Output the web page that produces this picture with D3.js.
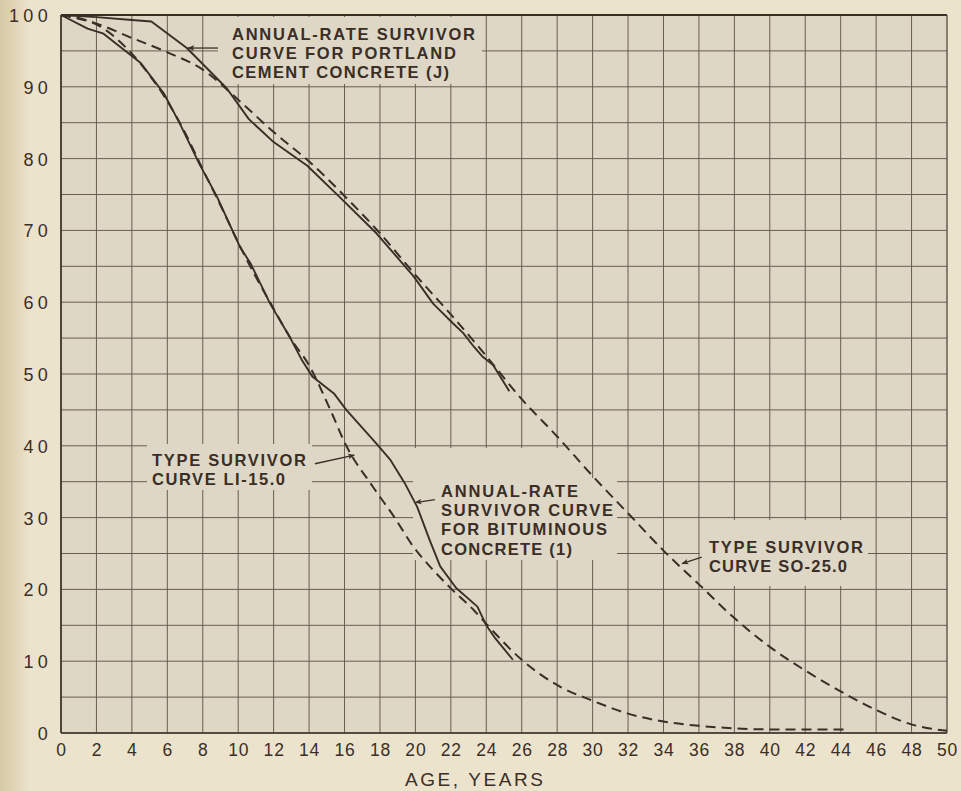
<!DOCTYPE html>
<html><head><meta charset="utf-8">
<script src="https://cdn.jsdelivr.net/npm/d3@7/dist/d3.min.js"></script>
<style>
html,body{margin:0;padding:0;background:#ece3cd;}
svg{display:block;}
</style></head>
<body>
<script>
// ---- data ----
const xTicks = d3.range(0, 51, 2);
const yTicks = d3.range(0, 101, 10);
const yGrid = d3.range(0, 101, 5);

// Annual-rate survivor curve, Portland cement concrete (J) — solid
const jAge = [0, 2, 4, 5.1, 7.1, 9.35, 10.6, 12, 13.9, 15.7, 17.8, 19.9, 21.0, 22.1, 22.7, 23.3, 23.8, 24.4, 25.3];
const jPct = [100, 99.7, 99.3, 99.1, 95.4, 89.8, 85.5, 82.3, 79.0, 74.7, 69.6, 63.6, 59.8, 57.1, 55.7, 53.8, 52.4, 51.2, 47.6];

// Annual-rate survivor curve, bituminous concrete (1) — solid
const bAge = [0, 1.5, 2.4, 4.5, 5.8, 6.7, 7.8, 8.8, 10.1, 10.7, 11.8, 12.9, 13.6, 14.2, 15.4, 16.1, 17.8, 18.6, 19.4, 20.1, 20.8, 21.4, 22.3, 23.5, 24.0, 24.5, 25.5];
const bPct = [100, 98.1, 97.4, 93.3, 89.1, 84.9, 79.3, 74.7, 67.7, 65.4, 59.8, 55.2, 51.9, 49.6, 47.3, 45.0, 40.3, 38.0, 34.8, 31.5, 26.9, 23.2, 20.2, 17.6, 15.0, 13.2, 10.2];

// Type survivor curve L1-15.0 — dashed
const lAge = [0, 1, 2, 3, 4, 5, 6, 7, 8, 9, 10, 11, 12, 13, 14, 15.2, 16.1, 17.6, 18.8, 19.9, 21, 22.1, 23.3, 24, 26, 28.2, 30, 32, 34, 36, 38, 40, 42, 44.3];
const lPct = [100, 99.6, 98.7, 97.0, 94.6, 91.6, 88.0, 83.6, 78.5, 73.5, 68.3, 63.5, 59.1, 54.8, 51.2, 45.0, 40.0, 34.3, 30.1, 25.9, 22.7, 19.9, 17.1, 15.2, 10.2, 6.4, 4.5, 2.7, 1.6, 1.0, 0.65, 0.5, 0.5, 0.5];

// Type survivor curve SO-25.0 — dashed
const sAge = [0, 2, 4, 6, 8, 10, 12, 14, 16, 18, 20, 22, 24, 26, 28, 30, 32, 34, 36, 38, 40, 42, 44, 46, 48, 50];
const sPct = [100, 98.8, 96.8, 94.8, 92.4, 88.2, 83.7, 79.6, 74.8, 69.6, 63.8, 58.3, 52.5, 46.5, 41.3, 35.8, 30.6, 25.4, 20.7, 16.0, 12.0, 8.7, 5.8, 3.2, 1.2, 0.3];

const xLabel = "AGE, YEARS";

// ---- layout ----
const W = 961, H = 791;
const X0 = 61, X1 = 947, Y0 = 733, Y1 = 15;
const INK = "#3a2e27", GRID = "#6a5c50", PAGE = "#ece3cd", PLOT = "#ded7c5";

const x = d3.scaleLinear().domain([0, 50]).range([X0, X1]);
const y = d3.scaleLinear().domain([0, 100]).range([Y0, Y1]);

const svg = d3.select("body").append("svg").attr("width", W).attr("height", H);
const defs = svg.append("defs");
const grad = defs.append("linearGradient").attr("id", "bind").attr("x1", 0).attr("x2", 1);
grad.append("stop").attr("offset", 0).attr("stop-color", "#d6c9a6");
grad.append("stop").attr("offset", 0.6).attr("stop-color", "#e3d8bb");
grad.append("stop").attr("offset", 1).attr("stop-color", PAGE);
defs.append("marker").attr("id", "arr").attr("viewBox", "0 0 10 10")
  .attr("refX", 9).attr("refY", 5).attr("markerWidth", 7).attr("markerHeight", 7)
  .attr("markerUnits", "userSpaceOnUse").attr("orient", "auto")
  .append("path").attr("d", "M0,1 L10,5 L0,9 L2.5,5 Z").attr("fill", INK);

svg.append("rect").attr("width", W).attr("height", H).attr("fill", PAGE);
svg.append("rect").attr("width", 30).attr("height", H).attr("fill", "url(#bind)");
svg.append("rect").attr("x", X0).attr("y", Y1).attr("width", X1 - X0).attr("height", Y0 - Y1).attr("fill", PLOT);

// grid
const g = svg.append("g");
g.selectAll(".vg").data(xTicks).join("line")
  .attr("x1", d => x(d)).attr("x2", d => x(d)).attr("y1", Y1).attr("y2", Y0)
  .attr("stroke", GRID).attr("stroke-width", 1);
g.selectAll(".hg").data(yGrid).join("line")
  .attr("x1", X0).attr("x2", X1).attr("y1", d => y(d)).attr("y2", d => y(d))
  .attr("stroke", GRID).attr("stroke-width", 1);

// label boxes that interrupt the grid
const boxes = [
  [218, 17, 264, 67],
  [147, 444, 165, 46],
  [413, 448, 167, 112],
  [580, 478, 37, 82],
  [700, 520, 168, 66]
];
svg.selectAll(".box").data(boxes).join("rect")
  .attr("x", d => d[0]).attr("y", d => d[1]).attr("width", d => d[2]).attr("height", d => d[3])
  .attr("fill", PLOT);

// frame
svg.append("line").attr("x1", X0).attr("x2", X1).attr("y1", Y1).attr("y2", Y1).attr("stroke", INK).attr("stroke-width", 2.2);
svg.append("line").attr("x1", X0).attr("x2", X0).attr("y1", Y1).attr("y2", Y0).attr("stroke", INK).attr("stroke-width", 1.6);
svg.append("line").attr("x1", X0).attr("x2", X1).attr("y1", Y0).attr("y2", Y0).attr("stroke", INK).attr("stroke-width", 1.6);
svg.append("line").attr("x1", X1).attr("x2", X1).attr("y1", Y1).attr("y2", Y0).attr("stroke", GRID).attr("stroke-width", 1);

// curves
const lineLin = d3.line().x(d => x(d[0])).y(d => y(d[1])).curve(d3.curveLinear);
const lineSm = d3.line().x(d => x(d[0])).y(d => y(d[1])).curve(d3.curveMonotoneX);
const zip = (a, b) => a.map((v, i) => [v, b[i]]);

svg.append("path").attr("d", lineSm(zip(sAge, sPct))).attr("fill", "none")
  .attr("stroke", INK).attr("stroke-width", 2).attr("stroke-dasharray", "10,6");
svg.append("path").attr("d", lineSm(zip(lAge, lPct))).attr("fill", "none")
  .attr("stroke", INK).attr("stroke-width", 2).attr("stroke-dasharray", "10,6");
svg.append("path").attr("d", lineLin(zip(jAge, jPct))).attr("fill", "none")
  .attr("stroke", INK).attr("stroke-width", 1.9).attr("stroke-linejoin", "round");
svg.append("path").attr("d", lineLin(zip(bAge, bPct))).attr("fill", "none")
  .attr("stroke", INK).attr("stroke-width", 1.9).attr("stroke-linejoin", "round");

// axes
const yAxis = svg.append("g").attr("transform", `translate(${X0},0)`)
  .call(d3.axisLeft(y).tickValues(yTicks).tickSize(0).tickPadding(9).tickFormat(d3.format("d")));
yAxis.select(".domain").remove();
yAxis.selectAll("text").attr("fill", INK).style("font-family", "Liberation Sans, Arial, sans-serif")
  .style("font-size", "18px").style("letter-spacing", "4.3px").attr("dy", "0.36em");

const xAxis = svg.append("g").attr("transform", `translate(0,${Y0})`)
  .call(d3.axisBottom(x).tickValues(xTicks).tickSize(0).tickPadding(11).tickFormat(d3.format("d")));
xAxis.select(".domain").remove();
xAxis.selectAll("text").attr("fill", INK).style("font-family", "Liberation Sans, Arial, sans-serif")
  .style("font-size", "17.5px").style("letter-spacing", "0.8px");

svg.append("text").attr("x", 405).attr("y", 786).attr("fill", INK)
  .attr("textLength", 138).attr("lengthAdjust", "spacing")
  .style("font-family", "Liberation Sans, Arial, sans-serif").style("font-size", "19px")
  .text(xLabel);

// annotations
const notes = [
  {x: 232, y: 40, lh: 19, w: [243, 224, 217], lines: ["ANNUAL-RATE SURVIVOR", "CURVE FOR PORTLAND", "CEMENT CONCRETE (J)"]},
  {x: 152, y: 466, lh: 19, w: [154, 133], lines: ["TYPE SURVIVOR", "CURVE LI-15.0"]},
  {x: 441, y: 497, lh: 19.2, w: [137, 172, 166, 131], lines: ["ANNUAL-RATE", "SURVIVOR CURVE", "FOR BITUMINOUS", "CONCRETE (1)"]},
  {x: 709, y: 553, lh: 18.5, w: [154, 138], lines: ["TYPE SURVIVOR", "CURVE SO-25.0"]}
];
notes.forEach(n => {
  n.lines.forEach((t, i) => {
    svg.append("text").attr("x", n.x).attr("y", n.y + i * n.lh).attr("fill", INK)
      .attr("textLength", n.w[i]).attr("lengthAdjust", "spacing")
      .style("font-family", "Liberation Sans, Arial, sans-serif").style("font-weight", "bold")
      .style("font-size", "16.5px").text(t);
  });
});

// arrows (from label toward curve), data coordinates
const arrows = [
  [[8.86, 95.4], [7.17, 95.4]],
  [[14.33, 37.5], [16.55, 38.7]],
  [[21.1, 32.5], [20.0, 32.1]],
  [[36.16, 24.5], [35.05, 23.6]]
];
arrows.forEach(a => {
  svg.append("line").attr("x1", x(a[0][0])).attr("y1", y(a[0][1]))
    .attr("x2", x(a[1][0])).attr("y2", y(a[1][1]))
    .attr("stroke", INK).attr("stroke-width", 1.3).attr("marker-end", "url(#arr)");
});
</script>
</body></html>
